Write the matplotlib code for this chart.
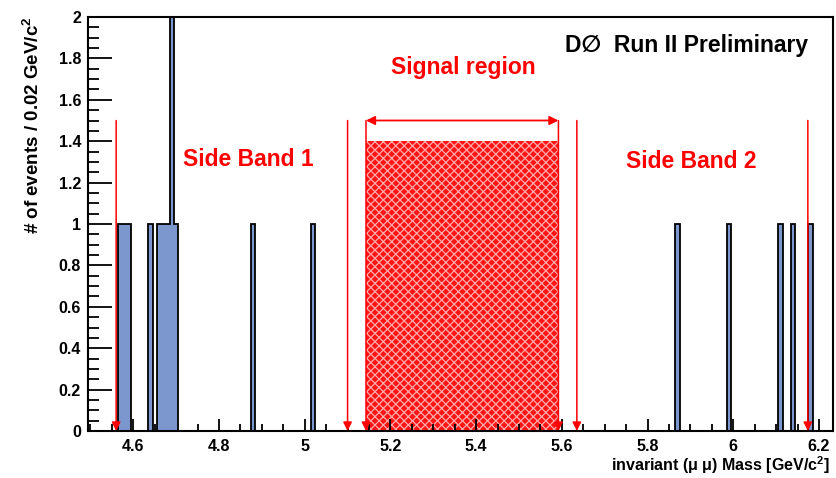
import numpy as np
import matplotlib
matplotlib.use("Agg")
import matplotlib.pyplot as plt
from matplotlib.ticker import MultipleLocator, FormatStrFormatter

plt.rcParams['font.family'] = ['Liberation Sans', 'DejaVu Sans']
plt.rcParams['mathtext.fontset'] = 'custom'
plt.rcParams['mathtext.rm'] = 'Liberation Sans:bold'
plt.rcParams['mathtext.it'] = 'Liberation Sans:bold'
plt.rcParams['hatch.linewidth'] = 0.9

# histogram: bin centres (GeV/c^2) and event counts, 0.01 wide bins
bin_start = 4.495
bin_stop = 6.225
bin_width = 0.01
event_mass = [4.57, 4.58, 4.59, 4.64, 4.66, 4.67, 4.68, 4.69, 4.70,
              4.88, 5.02, 5.87, 5.99, 6.11, 6.14, 6.18]
event_count = [1, 1, 1, 1, 1, 1, 1, 2, 1,
               1, 1, 1, 1, 1, 1, 1]

# regions (lower, upper edge)
side_band_1 = (4.56, 5.10)
signal_region = (5.143, 5.592)
side_band_2 = (5.635, 6.174)
signal_height = 1.4
arrow_top = 1.5

edges = np.round(np.arange(bin_start, bin_stop + bin_width / 2, bin_width), 4)
counts = np.zeros(len(edges) - 1)
for m, c in zip(event_mass, event_count):
    idx = int(round((m - bin_start) / bin_width - 0.5))
    counts[idx] += c

fig = plt.figure(figsize=(8.37, 4.78), dpi=100)
ax = fig.add_axes([88 / 837, 47 / 478, 745 / 837, 414 / 478])

ax.stairs(counts, edges, fill=True, color='#7b97cd', zorder=2)
ax.stairs(counts, edges, color='black', lw=1.3, zorder=3)

# hatched signal box
ax.fill_between(list(signal_region), 0, signal_height, facecolor='#ff1414',
                edgecolor='#ffaaaa', hatch='xxxx', linewidth=0, zorder=1)

red = '#ff0000'
for lo, hi in (side_band_1, signal_region, side_band_2):
    for x in (lo, hi):
        ax.annotate('', xy=(x, 0), xytext=(x, arrow_top),
                    arrowprops=dict(arrowstyle='-|>', color=red, lw=1.1,
                                    mutation_scale=13, shrinkA=0, shrinkB=0),
                    zorder=4)
ax.annotate('', xy=(signal_region[0], arrow_top), xytext=(signal_region[1], arrow_top),
            arrowprops=dict(arrowstyle='<|-|>', color=red, lw=1.3,
                            mutation_scale=13, shrinkA=0, shrinkB=0), zorder=4)

ax.text(4.869, 1.31, 'Side Band 1', color=red, fontsize=16.5, fontweight='bold',
        ha='center', va='center')
ax.text(5.369, 1.755, 'Signal region', color=red, fontsize=16.5, fontweight='bold',
        ha='center', va='center')
ax.text(5.903, 1.30, 'Side Band 2', color=red, fontsize=16.5, fontweight='bold',
        ha='center', va='center')
ax.text(0.966, 0.932, 'D\u2205  Run II Preliminary', transform=ax.transAxes,
        fontsize=16.5, fontweight='bold', ha='right', va='center')

ax.set_xlim(4.4943, 6.2327)
ax.set_ylim(0, 2)
ax.xaxis.set_major_locator(MultipleLocator(0.2))
ax.xaxis.set_minor_locator(MultipleLocator(0.05))
ax.yaxis.set_major_locator(MultipleLocator(0.2))
ax.yaxis.set_minor_locator(MultipleLocator(0.05))
ax.xaxis.set_major_formatter(FormatStrFormatter('%g'))
ax.yaxis.set_major_formatter(FormatStrFormatter('%g'))
ax.tick_params(axis='x', which='major', direction='in', length=9, width=1.3, pad=6)
ax.tick_params(axis='x', which='minor', direction='in', length=5, width=1.3)
ax.tick_params(axis='y', which='major', direction='in', length=17, width=1.3, pad=5)
ax.tick_params(axis='y', which='minor', direction='in', length=8, width=1.3)
for lab in ax.get_xticklabels() + ax.get_yticklabels():
    lab.set_fontsize(11.5)
    lab.set_fontweight('bold')
for s in ax.spines.values():
    s.set_linewidth(1.5)

ax.set_xlabel('invariant (\u03bc \u03bc) Mass [GeV/c$^{2}$]', fontsize=11.5,
              fontweight='bold', ha='right', x=0.995, labelpad=0)
ax.set_ylabel('# of events / 0.02 GeV/c$^{2}$', fontsize=13.5, fontweight='bold',
              ha='right', y=1.0, labelpad=11)

fig.savefig('out.png', dpi=100)
